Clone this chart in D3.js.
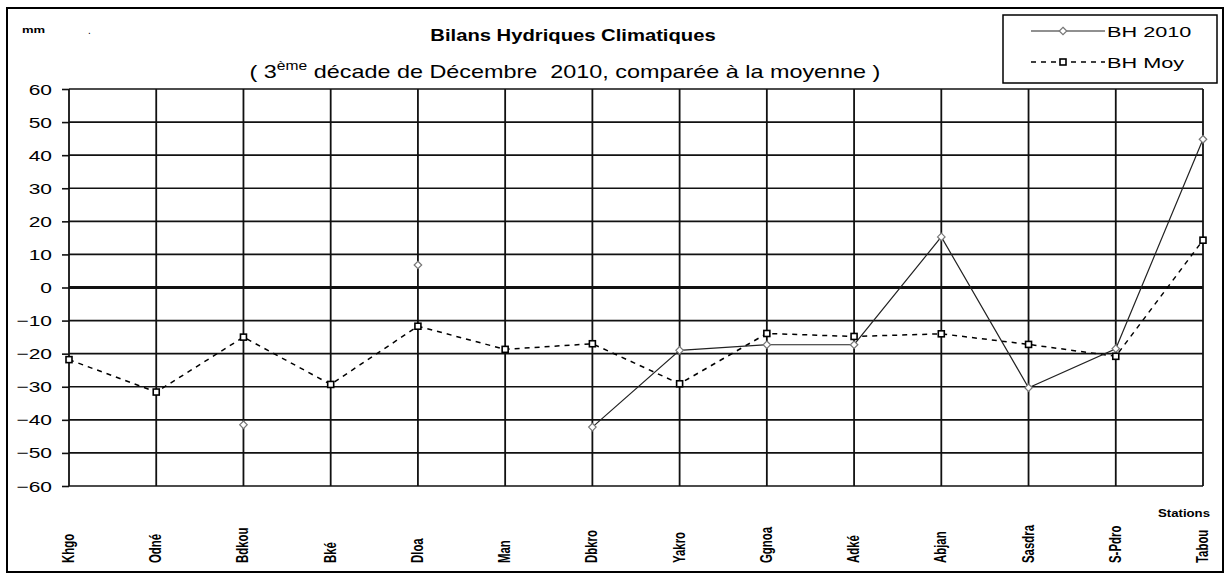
<!DOCTYPE html>
<html><head><meta charset="utf-8">
<script src="https://cdn.jsdelivr.net/npm/d3@7/dist/d3.min.js"></script>
<style>body{margin:0;background:#fff}svg{display:block}</style>
</head><body>
<svg id="c" width="1230" height="579"></svg>
<script>
const stations = ["Khgo","Odné","Bdkou","Bké","Dloa","Man","Dbkro","Yakro","Ggnoa","Adké","Abjan","Sasdra","S-Pdro","Tabou"];
const bh2010 = [null,null,-41.5,null,6.8,null,-42.2,-19,-17.3,-17.3,15.3,-30.3,-18.5,44.8];
const bhMoy = [-21.8,-31.6,-15,-29.3,-11.7,-18.7,-17,-29.1,-13.9,-14.8,-14,-17.2,-20.8,14.3];
const yTicks = [60,50,40,30,20,10,0,-10,-20,-30,-40,-50,-60];

const FONT = "Liberation Sans, Arial, sans-serif";
const svg = d3.select("#c");
const x = d3.scalePoint().domain(stations).range([69,1203]);
const y = d3.scaleLinear().domain([-60,60]).range([486,89]);

function stext(g, tx, ty, sx, sy, str, size, opts={}) {
  const t = g.append("text").attr("transform",`translate(${tx},${ty}) scale(${sx},${sy})`)
    .attr("font-family",FONT).attr("font-size",size)
    .attr("text-anchor",opts.anchor||"start").attr("fill","#000");
  if (opts.bold) t.attr("font-weight","bold");
  if (typeof str === "string") t.text(str);
  return t;
}

// outer frame
svg.append("rect").attr("x",7).attr("y",8).attr("width",1216).attr("height",564)
  .attr("fill","#fff").attr("stroke","#000").attr("stroke-width",2);

// y axis
const yAxis = d3.axisLeft(y).tickValues(yTicks).tickSize(7).tickFormat("");
const ga = svg.append("g").attr("transform","translate(69,0)").call(yAxis);
ga.select(".domain").remove();
ga.selectAll(".tick line").attr("stroke","#111").attr("stroke-width",1.6);
const yl = svg.append("g");
yTicks.forEach(v => stext(yl, 52, y(v)+5.5, 1.4, 1, d3.format("d")(v), 15, {anchor:"end"}));

// horizontal grid
svg.append("g").selectAll("line").data(yTicks).join("line")
  .attr("x1",69).attr("x2",1203).attr("y1",d=>y(d)).attr("y2",d=>y(d))
  .attr("stroke","#111").attr("stroke-width",d=>d===0?3.2:1.6);

// vertical grid
svg.append("g").selectAll("line").data(stations).join("line")
  .attr("x1",d=>x(d)).attr("x2",d=>x(d)).attr("y1",y(60)).attr("y2",y(-60))
  .attr("stroke","#111").attr("stroke-width",1.8);

// x labels (rotated)
svg.append("g").selectAll("text").data(stations).join("text")
  .attr("transform",d=>`translate(${x(d)+5},563) rotate(-90) scale(0.95,1.3)`)
  .attr("font-family",FONT).attr("font-weight","bold")
  .attr("font-size",12).attr("text-anchor","start").text(d=>d);

stext(svg, 1210, 517, 1.2, 1, "Stations", 11, {anchor:"end", bold:true});

// series
const line = d3.line().defined(d=>d.v!==null).x(d=>x(d.s)).y(d=>y(d.v));
const d2010 = stations.map((s,i)=>({s,v:bh2010[i]}));
const dMoy = stations.map((s,i)=>({s,v:bhMoy[i]}));

svg.append("path").datum(dMoy).attr("d",line).attr("fill","none")
  .attr("stroke","#000").attr("stroke-width",1.5).attr("stroke-dasharray","5,5");
svg.append("path").datum(d2010).attr("d",line).attr("fill","none")
  .attr("stroke","#222").attr("stroke-width",1.2);

const diamond = d3.symbol().type(d3.symbolDiamond2).size(36);
svg.append("g").selectAll("path").data(d2010.filter(d=>d.v!==null)).join("path")
  .attr("transform",d=>`translate(${x(d.s)},${y(d.v)})`).attr("d",diamond)
  .attr("fill","#fff").attr("stroke","#777").attr("stroke-width",1.2);
svg.append("g").selectAll("rect").data(dMoy).join("rect")
  .attr("x",d=>x(d.s)-3).attr("y",d=>y(d.v)-3).attr("width",6).attr("height",6)
  .attr("fill","#fff").attr("stroke","#000").attr("stroke-width",1.6);

// titles
stext(svg, 22, 33, 1.45, 1, "mm", 9, {bold:true});
stext(svg, 88, 34, 1, 1, ".", 10);
stext(svg, 573, 41, 1.19, 1, "Bilans Hydriques Climatiques", 17, {anchor:"middle", bold:true});
const st = stext(svg, 565, 78, 1.3, 1, null, 18, {anchor:"middle"}).attr("xml:space","preserve");
st.append("tspan").text("( 3");
st.append("tspan").attr("font-size",12).attr("dy",-8).text("ème");
st.append("tspan").attr("dy",8).text(" décade de Décembre  2010, comparée à la moyenne )");

// legend
const lg = svg.append("g");
lg.append("rect").attr("x",1003).attr("y",15).attr("width",214).attr("height",68)
  .attr("fill","#fff").attr("stroke","#000").attr("stroke-width",1.5);
lg.append("line").attr("x1",1031).attr("x2",1105).attr("y1",31).attr("y2",31).attr("stroke","#222").attr("stroke-width",1.2);
lg.append("path").attr("transform","translate(1063,31)").attr("d",diamond).attr("fill","#fff").attr("stroke","#777").attr("stroke-width",1.2);
lg.append("line").attr("x1",1031).attr("x2",1105).attr("y1",62).attr("y2",62).attr("stroke","#000").attr("stroke-width",1.5).attr("stroke-dasharray","5,5");
lg.append("rect").attr("x",1060).attr("y",59).attr("width",6).attr("height",6).attr("fill","#fff").attr("stroke","#000").attr("stroke-width",1.6);
stext(lg, 1107, 37, 1.4, 1, "BH 2010", 15.5);
stext(lg, 1107, 68, 1.4, 1, "BH Moy", 15.5);
</script>
</body></html>
